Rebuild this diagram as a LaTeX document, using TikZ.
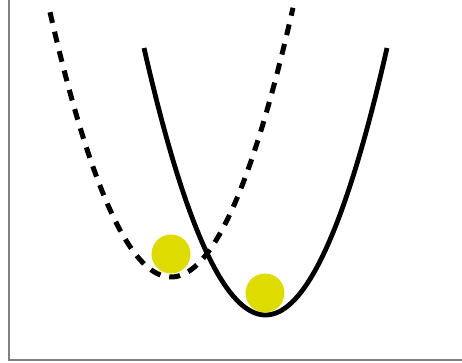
\documentclass[tikz,border=0pt]{standalone}
\usepackage{tikz}
\definecolor{ballyellow}{RGB}{221,219,0}
\definecolor{framegray}{RGB}{128,128,128}

\begin{document}
\begin{tikzpicture}[x=1pt, y=-1pt, thick]
	\useasboundingbox (0,0) rectangle (462,363);
	% 坐标框
	\draw[framegray, line width=2.5pt] (9,0) -- (9,360) -- (462,360);
	
	% 虚线势阱 (顶点 171,277)
	\draw[line width=5pt, dash pattern=on 11pt off 9pt, domain=50:293, samples=80] plot (\x, {277 - 267*((\x-171)/121.5)^2});
	% 实线势阱 (顶点 265,315)
	\draw[line width=4.8pt, domain=144:387, samples=80] plot (\x, {315 - 267*((\x-265.5)/121.5)^2});
	
	% 小球
	\fill[ballyellow] (171,254) circle (19.5);
	\fill[ballyellow] (265,293) circle (19.5);
\end{tikzpicture}
\end{document}
